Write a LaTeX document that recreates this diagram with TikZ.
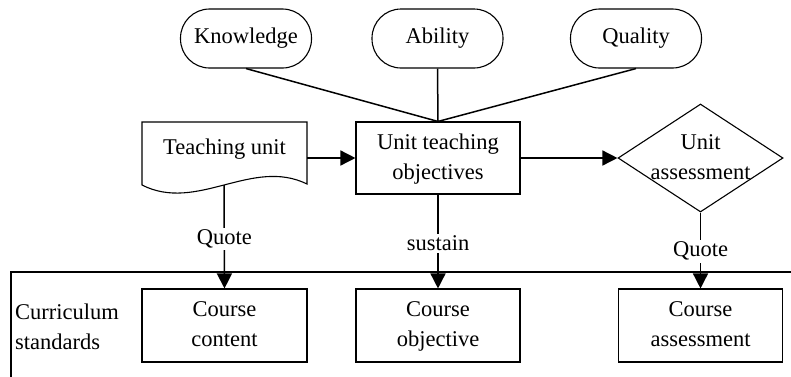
\documentclass[tikz,border=0pt]{standalone}
\usepackage{fontspec}
\setmainfont{Liberation Serif}
\usetikzlibrary{arrows.meta,shapes.geometric}
\begin{document}
\begin{tikzpicture}[x=1pt,y=-1pt,
  every node/.style={font=\fontsize{22.5}{30}\selectfont},
  box/.style={draw,line width=1.1pt,minimum width=164pt,minimum height=72pt,inner sep=0pt,align=center},
  pill/.style={draw,line width=1.1pt,rounded corners=29pt,minimum width=131pt,minimum height=59pt,inner sep=0pt},
  conn/.style={line width=1.5pt},
  arr/.style={line width=1.5pt,-{Triangle[length=15pt,width=15pt]}},
  lab/.style={fill=white,inner sep=2pt}]
\useasboundingbox (0,0) rectangle (791,376);
\clip (0,0) rectangle (791,376);
% container
\coordinate (cs) at (11,272);
\draw[line width=1.3pt] (800,272) -- (cs) -- (11,400);
\node[anchor=west,align=left,inner sep=0pt] (cstext) at (15,327) {Curriculum\\standards};
% top nodes
\node[pill] (kn) at (246,38.5) {Knowledge};
\node[pill] (ab) at (437.5,38.5) {Ability};
\node[pill] (qu) at (636,38.5) {Quality};
% middle row
\node[minimum width=165pt,minimum height=72pt,inner sep=0pt,label={[yshift=9pt]center:Teaching unit}] (tu) at (224.5,158) {};
\draw[line width=1.1pt] (142,122) -- (307,122) -- (307,184)
   .. controls (252,157) and (197,213) .. (142,185) -- cycle;
\coordinate (tub) at (224,185);
\node[box] (uto) at (438,158) {Unit teaching\strut\\objectives\strut};
\node[draw,diamond,line width=1.1pt,minimum width=165pt,minimum height=108pt,inner sep=0pt,
  label={[align=center]center:Unit\strut\\assessment\strut}] (ua) at (700.5,158) {};
% bottom row
\node[box,minimum width=165pt,minimum height=73pt] (cc) at (224.5,325.5) {Course\strut\\content\strut};
\node[box,minimum width=164pt,minimum height=73pt] (co) at (438,325.5) {Course\strut\\objective\strut};
\node[box,minimum width=164pt,minimum height=73pt] (ca) at (700.5,325.5) {Course\strut\\assessment\strut};
% connectors
\draw[conn] (kn.south) -- (uto.north);
\draw[conn] (ab.south) -- (uto.north);
\draw[conn] (qu.south) -- (uto.north);
\draw[arr] (tu.east) -- (uto.west);
\draw[arr] (uto.east) -- (ua.west);
\draw[arr] (tub) -- node[lab,pos=0.52] (l1) {Quote} (cc.north);
\draw[arr] (uto.south) -- node[lab,pos=0.52] (l2) {sustain} (co.north);
\draw[arr] (ua.south) -- node[lab,pos=0.51] (l3) {Quote} (ca.north);
\end{tikzpicture}
\end{document}
